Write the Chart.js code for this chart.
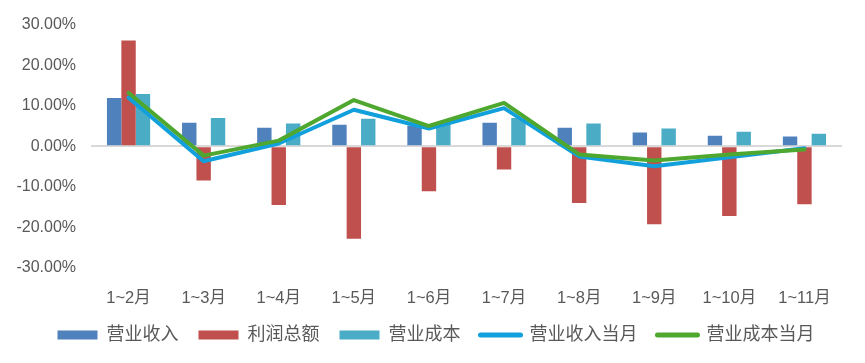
<!DOCTYPE html>
<html>
<head>
<meta charset="utf-8">
<script src="https://cdn.jsdelivr.net/npm/chart.js@4.4.1/dist/chart.umd.min.js"></script>
<style>
  html, body { margin: 0; padding: 0; background: #ffffff; }
  #wrap { width: 865px; height: 363px; position: relative; }
</style>
</head>
<body>
<div id="wrap"><canvas id="chart"></canvas></div>
<script>
    // --- Data ---
    const categories = ['1~2月', '1~3月', '1~4月', '1~5月', '1~6月', '1~7月', '1~8月', '1~9月', '1~10月', '1~11月'];
    const revenue = [11.9, 5.8, 4.6, 5.3, 5.1, 5.8, 4.6, 3.4, 2.6, 2.4];
    const profit = [26.1, -8.4, -14.5, -22.8, -11.1, -5.7, -14.0, -19.2, -17.2, -14.3];
    const cost = [12.9, 7.0, 5.6, 6.8, 5.5, 7.0, 5.6, 4.4, 3.6, 3.1];
    const revenueMonth = [12.0, -3.7, 0.7, 9.0, 4.4, 9.4, -2.5, -4.9, -2.7, -0.5];
    const costMonth = [13.2, -2.3, 1.4, 11.4, 5.0, 10.7, -2.0, -3.5, -2.0, -0.8];

    const fontFamily = '"Liberation Sans", "Noto Sans CJK SC", sans-serif';
    const textColor = '#595959';

    function barSet(label, data, color) {
        return {
            type: 'bar',
            label: label,
            data: data,
            backgroundColor: color,
            borderWidth: 0,
            categoryPercentage: 0.575,
            barPercentage: 1,
            order: 2
        };
    }

    function lineSet(label, data, color, order) {
        return {
            type: 'line',
            label: label,
            data: data,
            borderColor: color,
            backgroundColor: color,
            borderWidth: 4,
            pointRadius: 0,
            tension: 0,
            fill: false,
            borderJoinStyle: 'round',
            borderCapStyle: 'round',
            order: order
        };
    }

    // shift the legend so it sits centred under the whole picture
    const legendShift = {
        id: 'legendShift',
        beforeDraw: function (chart) {
            if (chart.legend) chart.legend.left = 30;
        }
    };

    const ctx = document.getElementById('chart').getContext('2d');
    new Chart(ctx, {
        data: {
            labels: categories,
            datasets: [
                barSet('营业收入', revenue, '#4F81BD'),
                barSet('利润总额', profit, '#C0504D'),
                barSet('营业成本', cost, '#4BACC6'),
                lineSet('营业收入当月', revenueMonth, '#12A0DC', 1),
                lineSet('营业成本当月', costMonth, '#4EA72E', 0)
            ]
        },
        plugins: [legendShift],
        options: {
            responsive: true,
            maintainAspectRatio: false,
            animation: false,
            layout: { padding: { left: 0, right: 23, top: 23, bottom: 9 } },
            plugins: {
                tooltip: { enabled: false },
                legend: {
                    position: 'bottom',
                    labels: {
                        color: textColor,
                        font: { family: fontFamily, size: 18 },
                        padding: 20,
                        boxWidth: 40,
                        boxHeight: 9,
                        usePointStyle: true,
                        pointStyleWidth: 40,
                        generateLabels: function (chart) {
                            return chart.data.datasets.map(function (ds, i) {
                                const isLine = ds.type === 'line';
                                return {
                                    text: ds.label,
                                    fillStyle: ds.backgroundColor,
                                    strokeStyle: isLine ? ds.borderColor : ds.backgroundColor,
                                    lineWidth: isLine ? 5 : 0,
                                    lineCap: 'round',
                                    pointStyle: isLine ? 'line' : 'rect',
                                    fontColor: textColor,
                                    hidden: false,
                                    datasetIndex: i
                                };
                            });
                        }
                    }
                }
            },
            scales: {
                x: {
                    grid: { display: false },
                    border: { display: false },
                    ticks: {
                        color: textColor,
                        font: { family: fontFamily, size: 16.5 },
                        padding: 13,
                        maxRotation: 0,
                        autoSkip: false
                    },
                    afterFit: function (scale) { scale.height = 38; }
                },
                y: {
                    min: -30,
                    max: 30,
                    border: { display: false },
                    grid: {
                        drawTicks: false,
                        color: function (c) { return c.tick && c.tick.value === 0 ? '#D9D9D9' : 'rgba(0,0,0,0)'; },
                        lineWidth: 2
                    },
                    ticks: {
                        stepSize: 10,
                        color: textColor,
                        font: { family: fontFamily, size: 16 },
                        padding: 15,
                        callback: function (v) { return v.toFixed(2) + '%'; }
                    },
                    afterFit: function (scale) { scale.width = 91; }
                }
            }
        }
    });
</script>
</body>
</html>
